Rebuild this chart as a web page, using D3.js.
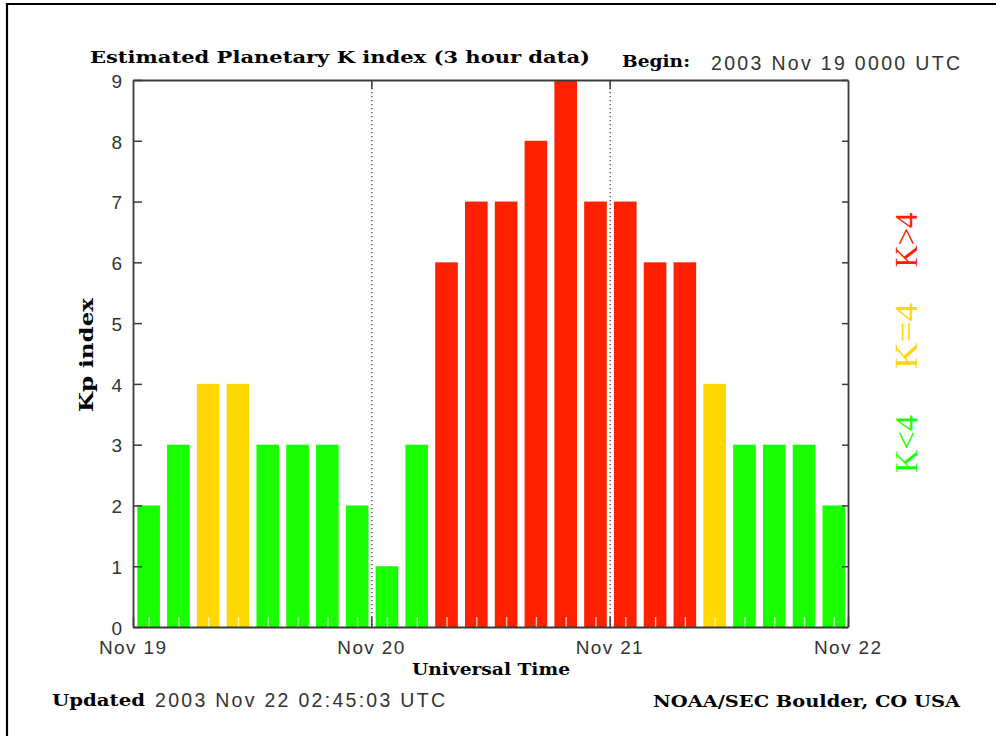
<!DOCTYPE html>
<html>
<head>
<meta charset="utf-8">
<script src="https://cdn.jsdelivr.net/npm/d3@7"></script>
<style>
  html, body { margin: 0; padding: 0; background: #fff; }
  svg { display: block; }
</style>
</head>
<body>
<svg id="chart" width="996" height="736"></svg>
<script>
// ---- data ----
const periods = ["19-00","19-03","19-06","19-09","19-12","19-15","19-18","19-21",
                 "20-00","20-03","20-06","20-09","20-12","20-15","20-18","20-21",
                 "21-00","21-03","21-06","21-09","21-12","21-15","21-18","21-21"];
const kpValues = [2,3,4,4,3,3,3,2, 1,3,6,7,7,8,9,7, 7,6,6,4,3,3,3,2];
const dayLabels = ["Nov 19","Nov 20","Nov 21","Nov 22"];
const dayPositions = [0,1,2,3];
const yTicks = [0,1,2,3,4,5,6,7,8,9];
const legendLabels = ["K>4","K=4","K<4"];

const GREEN = "#1aff00", YELLOW = "#ffd800", RED = "#ff2000";
const colorFor = v => v < 4 ? GREEN : (v === 4 ? YELLOW : RED);

const svg = d3.select("#chart");
const L = 133, R = 848, T = 80, B = 627;

const x = d3.scaleBand().domain(periods).range([L, R]).paddingInner(0.24).paddingOuter(0.12).align(0.6);
const xDay = d3.scaleLinear().domain([0, 3]).range([L, R]);
const y = d3.scaleLinear().domain([0, 9]).range([B, T]);

// outer frame (left + top edges)
svg.append("path").attr("d", "M7,736 V4 H996").attr("fill", "none")
   .attr("stroke", "#000").attr("stroke-width", 2.2);

// bars
svg.append("g").selectAll("rect").data(kpValues).join("rect")
  .attr("x", (d, i) => x(periods[i]))
  .attr("width", x.bandwidth())
  .attr("y", d => y(d))
  .attr("height", d => y(0) - y(d))
  .attr("fill", d => colorFor(d));

// light minor ticks inside bars
svg.append("g").selectAll("line").data(kpValues).join("line")
  .attr("x1", (d, i) => x(periods[i]) + x.bandwidth() / 2 + 0.5)
  .attr("x2", (d, i) => x(periods[i]) + x.bandwidth() / 2 + 0.5)
  .attr("y1", B).attr("y2", B - 10)
  .attr("stroke", "#ffffff").attr("stroke-width", 1.4).attr("opacity", 0.7);

// dotted day separators
svg.append("g").selectAll("line").data([1, 2]).join("line")
  .attr("x1", d => xDay(d) + 0.5).attr("x2", d => xDay(d) + 0.5)
  .attr("y1", T).attr("y2", B)
  .attr("stroke", "#444").attr("stroke-width", 1.3)
  .attr("stroke-dasharray", "1.3,2.7");

const axisColor = "#3a3a3a";
function styleAxis(g) {
  g.selectAll(".domain").attr("stroke", axisColor).attr("stroke-width", 1.8);
  g.selectAll(".tick line").attr("stroke", axisColor).attr("stroke-width", 1.5);
  g.selectAll("text").attr("fill", "#333")
    .style("font-family", "'Liberation Sans', Arial, sans-serif")
    .style("font-size", "19px");
}

// left axis
svg.append("g").attr("transform", `translate(${L},0)`)
  .call(d3.axisLeft(y).tickValues(yTicks).tickSizeInner(-9).tickSizeOuter(0).tickPadding(11).tickFormat(d3.format("d")))
  .call(styleAxis)
  .call(g => g.selectAll("text").attr("dy", "0.38em"));

// right axis
svg.append("g").attr("transform", `translate(${R},0)`)
  .call(d3.axisRight(y).tickValues(yTicks).tickSizeInner(-6).tickSizeOuter(0).tickFormat(""))
  .call(styleAxis);

// top axis
svg.append("g").attr("transform", `translate(0,${T})`)
  .call(d3.axisTop(xDay).tickValues([1, 2]).tickSizeInner(-9).tickSizeOuter(0).tickFormat(""))
  .call(styleAxis);

// bottom axis
svg.append("g").attr("transform", `translate(0,${B})`)
  .call(d3.axisBottom(xDay).tickValues(dayPositions).tickSizeInner(-10).tickSizeOuter(0).tickPadding(14)
        .tickFormat(i => dayLabels[i]))
  .call(styleAxis)
  .call(g => g.selectAll("text").attr("textLength", 67).attr("lengthAdjust", "spacing").attr("x", -1));

// text helpers
const serif = "'DejaVu Serif', 'Liberation Serif', serif";
const sans = "'Liberation Sans', Arial, sans-serif";
function txt(str, xx, yy, opts) {
  const t = svg.append("text").attr("x", xx).attr("y", yy).text(str)
    .style("font-family", opts.font || serif)
    .style("font-size", (opts.size || 17) + "px")
    .style("font-weight", opts.weight || "normal")
    .attr("fill", opts.fill || "#000");
  if (opts.len) t.attr("textLength", opts.len).attr("lengthAdjust", opts.adjust || "spacingAndGlyphs");
  if (opts.anchor) t.attr("text-anchor", opts.anchor);
  if (opts.transform) t.attr("transform", opts.transform);
  return t;
}

txt("Estimated Planetary K index (3 hour data)", 90, 63, {weight: "bold", size: 17.5, len: 500});
txt("Begin:", 622, 67, {weight: "bold", size: 17.5, len: 68});
txt("2003 Nov 19 0000 UTC", 711, 70, {font: sans, size: 19.5, len: 249, adjust: "spacing", fill: "#333"});

txt("Universal Time", 412, 675, {weight: "bold", size: 17.5, len: 158});
txt("Updated", 52, 706, {weight: "bold", size: 17.5, len: 93});
txt("2003 Nov 22 02:45:03 UTC", 155, 707, {font: sans, size: 19.5, len: 290, adjust: "spacing", fill: "#333"});
txt("NOAA/SEC Boulder, CO USA", 653, 707, {weight: "bold", size: 17.5, len: 307});

// y axis title
txt("Kp index", 0, 0, {weight: "bold", size: 18.5, len: 114, anchor: "middle",
    transform: "translate(93,355) rotate(-90)"});

// legend (rotated)
const legendColors = [RED, YELLOW, GREEN];
const legendCenters = [240, 336, 444];
const legendLens = [55, 66, 58];
legendLabels.forEach((lab, i) => {
  txt(lab, 0, 0, {font: "'Liberation Serif', 'DejaVu Serif', serif", size: 32, fill: legendColors[i],
      len: legendLens[i], anchor: "middle",
      transform: `translate(917,${legendCenters[i]}) rotate(-90)`});
});
</script>
</body>
</html>
